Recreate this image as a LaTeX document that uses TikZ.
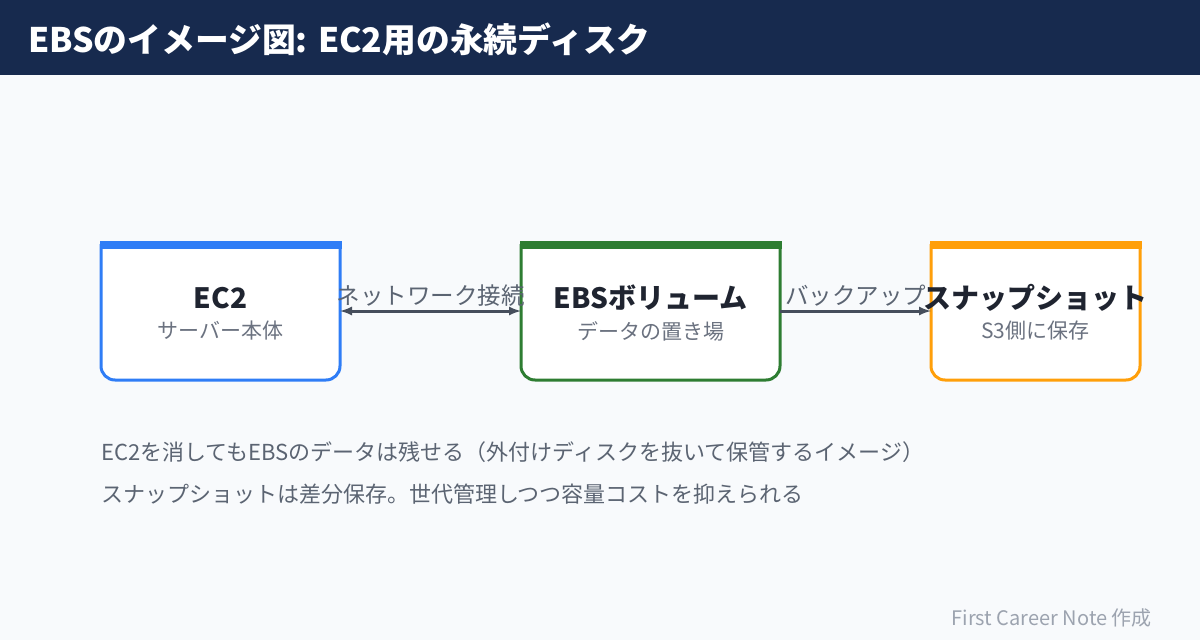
\documentclass[tikz,border=0pt]{standalone}
\usepackage{fontspec}
\setmainfont{Noto Sans CJK JP}
\usetikzlibrary{arrows,positioning}
\definecolor{navy}{HTML}{172A4E}
\definecolor{bgc}{HTML}{F8FAFC}
\definecolor{ec2blue}{HTML}{2F7DF6}
\definecolor{ebsgreen}{HTML}{2E7D32}
\definecolor{snaporange}{HTML}{FF9F0A}
\definecolor{inkdark}{HTML}{1F2430}
\definecolor{inkgray}{HTML}{6B7280}
\definecolor{inknote}{HTML}{5B6472}
\definecolor{inkfoot}{HTML}{9CA3AF}
\definecolor{conncol}{HTML}{464E5C}

\begin{document}
\begin{tikzpicture}[x=1pt,y=-1pt,
	box/.style={minimum height=139pt,inner sep=0pt},
	boxtitle/.style={text=inkdark,font=\bfseries\fontsize{28}{32}\selectfont,inner sep=0pt},
	boxsub/.style={text=inkgray,font=\fontsize{21}{24}\selectfont,inner sep=0pt},
	lbl/.style={text=inknote,font=\fontsize{23.5}{26}\selectfont,inner sep=0pt},
	note/.style={text=inknote,font=\fontsize{22}{26}\selectfont,inner sep=0pt,anchor=base west},
	conn/.style={draw=conncol,line width=3pt}]
	\fill[bgc] (0,0) rectangle (1200,640);
	\useasboundingbox (0,0) rectangle (1200,640);
	% header
	\fill[navy] (0,0) rectangle (1200,75);
	\node[anchor=base west,text=white,font=\bfseries\fontsize{33.8}{38}\selectfont,inner sep=0pt] (title) at (28,52) {EBSのイメージ図: EC2用の永続ディスク};
	% EC2
	\draw[line width=3pt,draw=ec2blue,fill=white,rounded corners=14pt] (101,244) -- (101,380) -- (340,380) -- (340,244);
	\fill[ec2blue] (99.5,241) rectangle (341.5,248.5);
	\node[box,minimum width=239pt] (ec2) at (220.5,311) {};
	\node[boxtitle] (ec2t) at (220.5,298) {EC2};
	\node[boxsub] (ec2s) at (220.5,331) {サーバー本体};
	% EBS
	\draw[line width=3pt,draw=ebsgreen,fill=white,rounded corners=14pt] (521,244) -- (521,380) -- (780,380) -- (780,244);
	\fill[ebsgreen] (519.5,241) rectangle (781.5,248.5);
	\node[box,minimum width=259pt] (ebs) at (650.5,311) {};
	\node[boxtitle] (ebst) at (650.5,298) {EBSボリューム};
	\node[boxsub] (ebss) at (650.5,331) {データの置き場};
	% snapshot
	\draw[line width=3pt,draw=snaporange,fill=white,rounded corners=14pt] (931,244) -- (931,380) -- (1140,380) -- (1140,244);
	\fill[snaporange] (929.5,241) rectangle (1141.5,248.5);
	\node[box,minimum width=209pt] (snap) at (1035.5,311) {};
	\node[boxtitle] (snapt) at (1035.5,298) {スナップショット};
	\node[boxsub] (snaps) at (1035.5,331) {S3側に保存};
	% connectors
	\draw[conn,latex-latex] (ec2) -- (ebs) node[midway,above=3pt,lbl] {ネットワーク接続};
	\draw[conn,-latex] (ebs) -- (snap) node[midway,above=3pt,lbl] {バックアップ};
	% notes
	\node[note] (note1) at (101,460) {EC2を消してもEBSのデータは残せる（外付けディスクを抜いて保管するイメージ）};
	\node[note] (note2) at (101,502) {スナップショットは差分保存。世代管理しつつ容量コストを抑えられる};
	\node[anchor=base east,text=inkfoot,font=\fontsize{20}{24}\selectfont,inner sep=0pt] (foot) at (1152,625) {First Career Note 作成};
\end{tikzpicture}
\end{document}
